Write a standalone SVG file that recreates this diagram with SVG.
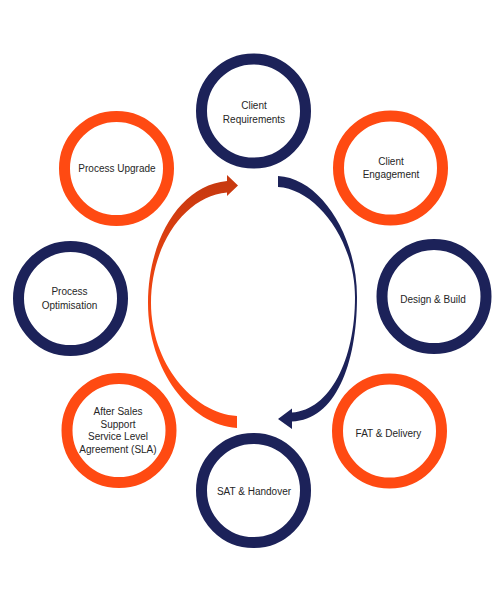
<svg xmlns="http://www.w3.org/2000/svg" width="504" height="604" viewBox="0 0 504 604">
<style>
.ring{fill:none;stroke-width:11}
.navy{stroke:#1c2259}
.orange{stroke:#ff4a12}
.lbl{font-family:"Liberation Sans",Arial,sans-serif;font-size:10px;fill:#262626;text-anchor:middle}
</style>
<defs>
<linearGradient id="og" gradientUnits="userSpaceOnUse" x1="0" y1="185" x2="0" y2="340">
<stop offset="0" stop-color="#c8390f"/>
<stop offset="1" stop-color="#ff4a12"/>
</linearGradient>
</defs>
<rect width="504" height="604" fill="#ffffff"/>
<g id="connectors">
<path id="arrow-orange" fill="url(#og)" d="M237 428 C190 425 148 370 148 303 C148 240 180 185 227 181 L227 175 L238 185.5 L227 196 L227 192.5 C185 196 151 245 151 303 C151 362 192 413 237 416 Z"/>
<path id="arrow-navy" fill="#1c2259" d="M278 176 C320 178 357 235 357 297 C357 365 335 420 292 421.5 L292 429 L278 419 L292 408.5 L292 412.5 C330 410 355 360 355 297 C355 240 316 189 278 187 Z"/>
</g>
<g id="node-client-requirements">
<circle class="ring navy" cx="253.5" cy="111" r="52"/>
<text class="lbl" x="254" y="108.5">Client</text>
<text class="lbl" x="254" y="122.5">Requirements</text>
</g>
<g id="node-client-engagement">
<circle class="ring orange" cx="390.5" cy="168" r="52"/>
<text class="lbl" x="391" y="165">Client</text>
<text class="lbl" x="391" y="178">Engagement</text>
</g>
<g id="node-design-build">
<circle class="ring navy" cx="434" cy="296.5" r="52"/>
<text class="lbl" x="433" y="303">Design &amp; Build</text>
</g>
<g id="node-fat-delivery">
<circle class="ring orange" cx="389.5" cy="431" r="52"/>
<text class="lbl" x="388.5" y="436.5">FAT &amp; Delivery</text>
</g>
<g id="node-sat-handover">
<circle class="ring navy" cx="253.5" cy="490.5" r="52"/>
<text class="lbl" x="254" y="494.5">SAT &amp; Handover</text>
</g>
<g id="node-after-sales">
<circle class="ring orange" cx="119" cy="430.5" r="52"/>
<text class="lbl" x="118" y="415">After Sales</text>
<text class="lbl" x="118" y="427.5">Support</text>
<text class="lbl" x="118" y="440">Service Level</text>
<text class="lbl" x="118" y="452.5">Agreement (SLA)</text>
</g>
<g id="node-process-optimisation">
<circle class="ring navy" cx="70.5" cy="298.5" r="52"/>
<text class="lbl" x="69.5" y="295">Process</text>
<text class="lbl" x="69.5" y="308.5">Optimisation</text>
</g>
<g id="node-process-upgrade">
<circle class="ring orange" cx="116.5" cy="168.5" r="52"/>
<text class="lbl" x="117" y="172">Process Upgrade</text>
</g>
</svg>
